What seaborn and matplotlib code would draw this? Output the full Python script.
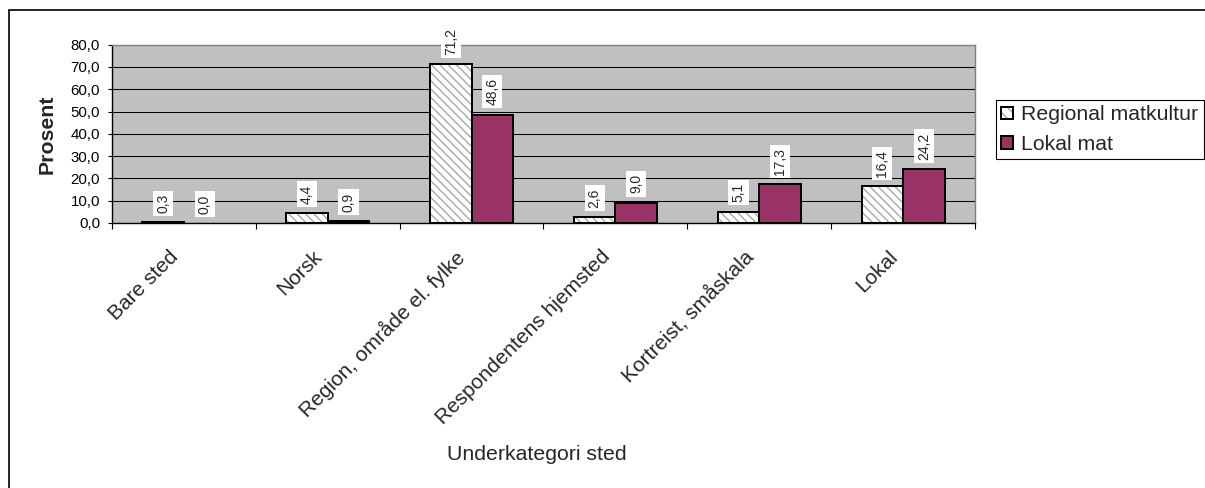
import matplotlib
matplotlib.use("Agg")
import matplotlib.pyplot as plt
import matplotlib.transforms as mtransforms
from matplotlib.patches import Patch, Rectangle
from matplotlib.legend_handler import HandlerTuple
from matplotlib.ticker import FixedLocator, FuncFormatter, MultipleLocator
import numpy as np
import pandas as pd
import seaborn as sns

# --- data -------------------------------------------------------------
categories = ["Bare sted", "Norsk", "Region, område el. fylke",
              "Respondentens hjemsted", "Kortreist, småskala", "Lokal"]
series = ["Regional matkultur", "Lokal mat"]
regional_matkultur = [0.3, 4.4, 71.2, 2.6, 5.1, 16.4]
lokal_mat = [0.0, 0.9, 48.6, 9.0, 17.3, 24.2]
y_label = "Prosent"
x_label = "Underkategori sted"

df = pd.DataFrame({
    "kategori": categories * 2,
    "serie": [series[0]] * len(categories) + [series[1]] * len(categories),
    "prosent": regional_matkultur + lokal_mat,
})

# --- style ------------------------------------------------------------
sns.set_style("white")
plt.rcParams["font.family"] = ["Liberation Sans", "DejaVu Sans"]
plt.rcParams["hatch.linewidth"] = 1.0

W, H = 1205, 488
fig = plt.figure(figsize=(W / 100, H / 100), dpi=100)
fig.patch.set_facecolor("white")

ax_l, ax_r, ax_t, ax_b = 112, 975, 44.7, 223
ax = fig.add_axes([ax_l / W, 1 - ax_b / H, (ax_r - ax_l) / W, (ax_b - ax_t) / H])

plum = "#993366"
hatch_grey = "#a8a8a8"
edge_lw = 1.44

sns.barplot(data=df, x="kategori", y="prosent", hue="serie",
            hue_order=series, order=categories,
            palette=["white", plum], saturation=1, width=0.578, gap=0,
            edgecolor="black", linewidth=edge_lw, errorbar=None,
            legend=False, ax=ax)

ax.set_facecolor("#c0c0c0")
ax.set_ylim(0, 80)
ax.set_xlim(-0.5, len(categories) - 0.5)
ax.set_axisbelow(True)
ax.yaxis.set_major_locator(MultipleLocator(10))
ax.grid(axis="y", color="black", linewidth=0.75)
ax.grid(axis="x", visible=False)

# hatched fill for the first series, solid outline drawn on top
hatched, solid = ax.containers[0], ax.containers[1]
for bar in hatched:
    bar.set_hatch("\\\\\\\\")
    bar.set_edgecolor(hatch_grey)
    bar.set_linewidth(0)
    if bar.get_height() > 0:
        ax.add_patch(Rectangle(bar.get_xy(), bar.get_width(), bar.get_height(),
                               fill=False, edgecolor="black", linewidth=edge_lw,
                               zorder=bar.get_zorder() + 0.1))
for bar in solid:
    if bar.get_height() == 0:
        bar.set_linewidth(0)

# value labels on white boxes
for cont in (hatched, solid):
    for bar in cont:
        v = bar.get_height()
        ax.annotate(f"{v:.1f}".replace(".", ","),
                    xy=(bar.get_x() + bar.get_width() / 2, v),
                    xytext=(0, 6.8), textcoords="offset points",
                    rotation=90, ha="center", va="bottom", fontsize=10,
                    bbox=dict(boxstyle="square,pad=0.22", fc="white", ec="none"),
                    zorder=5)

# spines
for s in ("left", "bottom"):
    ax.spines[s].set_color("black")
    ax.spines[s].set_linewidth(1.0)
for s in ("top", "right"):
    ax.spines[s].set_color("#808080")
    ax.spines[s].set_linewidth(1.0)

# y axis ticks
ax.yaxis.set_major_formatter(FuncFormatter(lambda v, p: f"{v:.1f}".replace(".", ",")))
ax.tick_params(axis="y", which="major", left=True, length=3, width=0.8,
               pad=5.5, labelsize=10.8, colors="black")

# x axis: tick marks between categories, labels at category centres
ax.xaxis.set_minor_locator(FixedLocator(np.arange(-0.5, len(categories), 1.0)))
ax.tick_params(axis="x", which="minor", bottom=True, length=4, width=0.8, color="black")
ax.tick_params(axis="x", which="major", bottom=True, length=0, pad=17.3, labelsize=15)
ax.set_xticks(range(len(categories)))
ax.set_xticklabels(categories, rotation=45, ha="right", va="top")
shift = mtransforms.ScaledTranslation(-2 / 100, 0, fig.dpi_scale_trans)
for lab in ax.get_xticklabels():
    lab.set_transform(lab.get_transform() + shift)

ax.set_xlabel(x_label, fontsize=15.3, va="center")
ax.xaxis.set_label_coords((536.6 - ax_l) / (ax_r - ax_l), -(455 - ax_b) / (ax_b - ax_t))
ax.set_ylabel(y_label, fontsize=15.3, fontweight="bold", va="center")
ax.yaxis.set_label_coords((47 - ax_l) / (ax_r - ax_l), 0.5)

# legend
h_reg = (Patch(facecolor="white", edgecolor=hatch_grey, hatch="\\\\\\", linewidth=0),
         Patch(fill=False, edgecolor="black", linewidth=edge_lw))
h_lok = Patch(facecolor=plum, edgecolor="black", linewidth=edge_lw)
leg = fig.legend([h_reg, h_lok], series,
                 handler_map={tuple: HandlerTuple(ndivide=1, pad=0)},
                 loc="upper left", bbox_to_anchor=(996 / W, 1 - 100 / H),
                 bbox_transform=fig.transFigure, fontsize=15.3,
                 frameon=True, fancybox=False, shadow=False, framealpha=1,
                 edgecolor="black", borderpad=0.25, borderaxespad=0,
                 handlelength=0.55, handleheight=0.52, handletextpad=0.4,
                 labelspacing=0.5)
leg.get_frame().set_linewidth(0.8)

# outer chart border
fig.add_artist(Rectangle((8.5 / W, -0.05), 1.1, 1.05 - 10 / H,
                         transform=fig.transFigure, fill=False,
                         edgecolor="black", linewidth=1.2))

fig.savefig("out.png", dpi=100, facecolor="white")
